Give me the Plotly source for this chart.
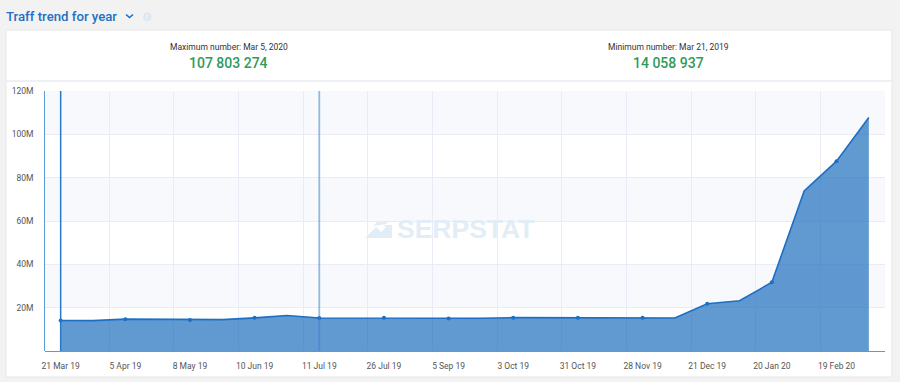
import plotly.graph_objects as go

W, H = 900, 382
L, R, T, B = 44.5, 15, 91, 31

dates = ["21 Mar 19", "28 Mar 19", "5 Apr 19", "20 Apr 19", "8 May 19", "24 May 19", "10 Jun 19", "26 Jun 19",
         "11 Jul 19", "18 Jul 19", "26 Jul 19", "15 Aug 19", "5 Sep 19", "19 Sep 19", "3 Oct 19", "17 Oct 19",
         "31 Oct 19", "14 Nov 19", "28 Nov 19", "10 Dec 19", "21 Dec 19", "5 Jan 20", "20 Jan 20", "5 Feb 20",
         "19 Feb 20", "5 Mar 20"]
traffic = [14058937, 14000000, 14700000, 14600000, 14300000, 14500000, 15300000, 16400000,
           15200000, 15200000, 15300000, 15200000, 15000000, 15100000, 15400000, 15400000,
           15400000, 15400000, 15400000, 15200000, 21800000, 23200000, 31700000, 73900000,
           87600000, 107803274]
y_ticks = [20e6, 40e6, 60e6, 80e6, 100e6, 120e6]
y_labels = ["20M", "40M", "60M", "80M", "100M", "120M"]
bands = [(100e6, 120e6), (60e6, 80e6), (20e6, 40e6)]
marked_dates = ["21 Mar 19", "11 Jul 19"]
title = "Traff trend for year"
max_caption, max_value = "Maximum number: Mar 5, 2020", "107 803 274"
min_caption, min_value = "Minimum number: Mar 21, 2019", "14 058 937"


def px(x):
    return x / W


def py(y):
    return 1 - y / H


BLUE = "#1c6fc4"
PL, PR = px(L), px(W - R)
fig = go.Figure()

# Area with line
fig.add_trace(go.Scatter(x=dates, y=traffic, mode="lines", fill="tozeroy",
                         line=dict(color=BLUE, width=1.6), fillcolor="rgba(30,110,190,0.7)", hoverinfo="skip"))
# Markers on every labelled date
fig.add_trace(go.Scatter(x=dates[::2], y=traffic[::2], mode="markers",
                         marker=dict(color=BLUE, size=4), hoverinfo="skip"))
# Highlight lines
fig.add_trace(go.Scatter(x=[marked_dates[0]] * 2, y=[0, 120e6], mode="lines",
                         line=dict(color="#2a78c8", width=1.5), hoverinfo="skip"))
fig.add_trace(go.Scatter(x=[marked_dates[1]] * 2, y=[0, 120e6], mode="lines",
                         line=dict(color="rgba(60,130,205,0.55)", width=1.8), hoverinfo="skip"))

shapes = [
    # card
    dict(type="rect", xref="paper", yref="paper", x0=px(6), x1=px(892), y0=py(377), y1=py(30),
         fillcolor="white", line=dict(color="#e6e6e6", width=1), layer="below"),
    dict(type="line", xref="paper", yref="paper", x0=px(6), x1=px(892), y0=py(81), y1=py(81),
         line=dict(color="#eef0f6", width=2), layer="below"),
    # chevron
    dict(type="path", xref="paper", yref="paper",
         path=f"M {px(126)} {py(14.5)} L {px(129.5)} {py(17.5)} L {px(133)} {py(14.5)}",
         line=dict(color=BLUE, width=1.6)),
    # info icon
    dict(type="circle", xref="paper", yref="paper", x0=px(143), x1=px(151.5), y0=py(21), y1=py(12.5),
         fillcolor="#dfe6f2", line=dict(width=0)),
    # left axis line
    dict(type="line", xref="paper", yref="paper", x0=PL, x1=PL, y0=py(H - B), y1=py(T),
         line=dict(color="#5b9bd5", width=1)),
    # watermark logo
    dict(type="path", xref="paper", yref="paper",
         path=(f"M {px(365)} {py(238)} L {px(376)} {py(227)} L {px(381)} {py(232)} L {px(386)} {py(227)} "
               f"L {px(383)} {py(225)} L {px(392)} {py(225)} L {px(392)} {py(238)} Z "
               f"M {px(373)} {py(226)} L {px(380)} {py(219)} L {px(392)} {py(219)} L {px(386)} {py(224)} Z"),
         fillcolor="#e3edf6", line=dict(width=0), layer="below"),
]
for lo, hi in bands:
    shapes.append(dict(type="rect", xref="paper", yref="y", x0=PL, x1=PR, y0=lo, y1=hi,
                       fillcolor="#f8f9fc", line=dict(width=0), layer="below"))

annotations = [
    dict(x=px(4), y=py(16), text=title, xanchor="left", font=dict(family="Roboto", size=13.2, color="#2270c2", weight=500)),
    dict(x=px(147.2), y=py(16.8), text="i", font=dict(family="Roboto", size=7, color="#ffffff")),
    dict(x=px(229), y=py(46.7), text=max_caption, font=dict(family="Roboto", size=8.5, color="#333333")),
    dict(x=px(229), y=py(62.7), text=max_value, font=dict(family="Roboto", size=14, color="#2e9b5a", weight=500)),
    dict(x=px(668.3), y=py(46.7), text=min_caption, font=dict(family="Roboto", size=8.5, color="#333333")),
    dict(x=px(668.3), y=py(62.7), text=min_value, font=dict(family="Roboto", size=14, color="#2e9b5a", weight=500)),
    dict(x=px(465.5), y=py(229), text="<b>SERPSTAT</b>", font=dict(family="Liberation Sans", size=26.5, color="#e3edf6")),
]
for a in annotations:
    a.setdefault("xanchor", "center")
    a.update(xref="paper", yref="paper", showarrow=False, yanchor="middle")

fig.update_layout(
    width=W, height=H, autosize=False,
    margin=dict(l=0, r=0, t=0, b=0, pad=0, autoexpand=False),
    paper_bgcolor="#f2f2f2", plot_bgcolor="rgba(0,0,0,0)",
    showlegend=False, shapes=shapes, annotations=annotations,
    xaxis=dict(domain=[PL, PR], type="category", categoryorder="array", categoryarray=dates, range=[-0.5, 25.5],
               tickmode="linear", tick0=0, dtick=2, tickson="boundaries", ticks="",
               showgrid=True, gridcolor="#e9ecf6", gridwidth=1,
               showline=True, linecolor="#5b9bd5", linewidth=1, zeroline=False,
               ticklabelstandoff=7,
               tickfont=dict(family="Roboto", size=8.5, color="#555555"), tickangle=0),
    yaxis=dict(domain=[py(H - B), py(T)], range=[0, 120e6], tickmode="array", tickvals=y_ticks, ticktext=y_labels,
               showgrid=True, gridcolor="#e9ecf6", gridwidth=1, zeroline=False, showline=False, ticks="",
               ticklabelstandoff=10,
               tickfont=dict(family="Roboto", size=8.5, color="#555555")),
)

fig.write_html("out.html", config={"displayModeBar": False},
               post_script="document.body.style.margin='0';document.body.style.overflow='hidden';document.body.style.background='#f2f2f2';")
